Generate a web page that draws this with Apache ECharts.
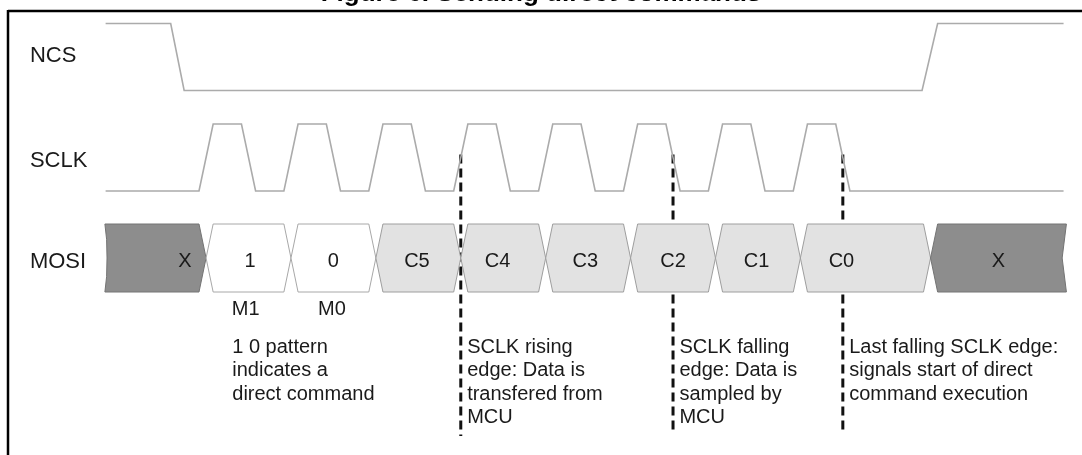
<!DOCTYPE html>
<html><head><meta charset="utf-8">
<script src="https://cdn.jsdelivr.net/npm/echarts@6/dist/echarts.min.js"></script>
<style>html,body{margin:0;padding:0;background:#fff}#c{width:1082px;height:455px}</style>
</head><body><div id="c"></div>
<script>
// ---------- data ----------
const titleText = 'Figure 6. Sending direct commands';
const signalNames = ['NCS', 'SCLK', 'MOSI'];

// NCS: transition times and logic levels (1 = high, 0 = low)
const ncsTimes  = [-6.6, -2.0, -1.05, 51.1, 52.2, 61.1];
const ncsLevels = [1, 1, 0, 0, 1, 1];

// SCLK: transition times and logic levels
const sclkTimes  = [-6.6, 0, 1, 3, 4, 6, 7, 9, 10, 12, 13, 15, 16, 18, 19, 21, 22,
                    24, 25, 27, 28, 30, 31, 33, 34, 36, 37, 39, 40, 42, 43, 45, 46, 61.1];
const sclkLevels = [0, 0, 1, 1, 0, 0, 1, 1, 0, 0, 1, 1, 0, 0, 1, 1, 0,
                    0, 1, 1, 0, 0, 1, 1, 0, 0, 1, 1, 0, 0, 1, 1, 0, 0];

// MOSI cells
const mosiLabels = ['X', '1', '0', 'C5', 'C4', 'C3', 'C2', 'C1', 'C0', 'X'];
const mosiStart  = [-6.6, 0.5, 6.5, 12.5, 18.5, 24.5, 30.5, 36.5, 42.5, 51.7];
const mosiEnd    = [0.5, 6.5, 12.5, 18.5, 24.5, 30.5, 36.5, 42.5, 51.7, 61.3];
const mosiKind   = ['dontcare', 'mode', 'mode', 'cmd', 'cmd', 'cmd', 'cmd', 'cmd', 'cmd', 'dontcare'];
const mosiLabelT = [-1.0, 3.6, 9.5, 15.4, 21.1, 27.3, 33.5, 39.4, 45.4, 56.5];

// Mode bit names under MOSI
const bitNames = ['M1', 'M0'];
const bitNameT = [3.3, 9.4];

// Edge markers (dashed lines) and notes
const markerT = [18.5, 33.5, 45.5];
const noteT = [2.35, 18.95, 33.95, 45.95];
const noteLines = [
  ['1 0 pattern', 'indicates a', 'direct command'],
  ['SCLK rising', 'edge: Data is', 'transfered from', 'MCU'],
  ['SCLK falling', 'edge: Data is', 'sampled by', 'MCU'],
  ['Last falling SCLK edge:', 'signals start of direct', 'command execution']
];

// ---------- rendering ----------
const FONT = '"Liberation Sans", Arial, Helvetica, sans-serif';
const PX = 100.5;          // pixels per lane unit on the y axis
const WAVE_H = 33.5 / PX;  // half swing of NCS/SCLK
const BOX_H = 34 / PX;     // half height of MOSI cells
const ROW_MOSI = 2;
const LABEL_DY = [-1, 3, 4]; // small vertical nudges of the signal names (px)

const styles = {
  dontcare: { fill: '#8d8d8d', stroke: '#747474' },
  mode: { fill: '#ffffff', stroke: '#a8a8a8' },
  cmd: { fill: '#e2e2e2', stroke: '#9e9e9e' }
};

const chart = echarts.init(document.getElementById('c'), null, { renderer: 'canvas' });

const option = {
  animation: false,
  backgroundColor: '#ffffff',
  title: {
    text: titleText, left: 'center', top: -24,
    textStyle: { fontFamily: FONT, fontSize: 26, fontWeight: 'bold', color: '#000' }
  },
  grid: { left: 0.9, top: 6.75, width: 1075.4, height: 4.4 * PX },
  xAxis: { type: 'value', min: -14, max: 62, show: false },
  yAxis: { type: 'value', min: -0.5, max: 3.9, inverse: true, show: false },
  graphic: [
    { type: 'line', shape: { x1: 8, y1: 11, x2: 1082, y2: 11 }, style: { stroke: '#000', lineWidth: 2.5 }, z: 100 },
    { type: 'line', shape: { x1: 8, y1: 10, x2: 8, y2: 455 }, style: { stroke: '#000', lineWidth: 2.5 }, z: 100 }
  ],
  series: [
    // dashed edge markers (drawn behind the MOSI cells)
    {
      type: 'custom', coordinateSystem: 'cartesian2d', clip: false, silent: true, z: 1,
      data: markerT.map(t => [t]),
      renderItem(params, api) {
        const t = api.value(0);
        const a = api.coord([t, 1 - 3 / PX]);
        const b = api.coord([t, ROW_MOSI + (params.dataIndex === 0 ? 178 : 174) / PX]);
        return { type: 'line', shape: { x1: a[0], y1: a[1], x2: b[0], y2: b[1] }, style: { stroke: '#111', lineWidth: 3, lineDash: [9, 5] } };
      }
    },
    // signal name labels
    {
      type: 'custom', coordinateSystem: 'cartesian2d', clip: false, silent: true, z: 3,
      data: signalNames.map((n, i) => [i]),
      renderItem(params, api) {
        const row = params.dataIndex;
        const p = api.coord([-11.95, row]);
        return { type: 'text', style: { text: signalNames[row], x: p[0], y: p[1] + LABEL_DY[row], align: 'left', verticalAlign: 'middle', fontFamily: FONT, fontSize: 22, fill: '#1a1a1a' } };
      }
    },
    // NCS and SCLK waveforms
    {
      type: 'custom', coordinateSystem: 'cartesian2d', clip: false, silent: true, z: 2,
      data: [[0], [1]],
      renderItem(params, api) {
        const row = params.dataIndex;
        const times = row === 0 ? ncsTimes : sclkTimes;
        const levels = row === 0 ? ncsLevels : sclkLevels;
        const pts = times.map((t, i) => api.coord([t, row + (levels[i] ? -WAVE_H : WAVE_H)]));
        return { type: 'polyline', shape: { points: pts }, style: { stroke: '#ababab', lineWidth: 1.6, fill: null } };
      }
    },
    // MOSI cells
    {
      type: 'custom', coordinateSystem: 'cartesian2d', clip: false, silent: true, z: 3,
      data: mosiLabels.map((l, i) => [mosiStart[i], mosiEnd[i], mosiLabelT[i]]),
      renderItem(params, api) {
        const i = params.dataIndex;
        const s = api.value(0), e = api.value(1), lt = api.value(2);
        const d = 0.5;
        const top = ROW_MOSI - BOX_H, bot = ROW_MOSI + BOX_H, mid = ROW_MOSI;
        let pts;
        if (i === 0) {
          pts = [[s - 0.05, top], [e - d, top], [e, mid], [e - d, bot], [s - 0.05, bot],
                 [s + 0.07, ROW_MOSI + BOX_H * 0.55], [s + 0.1, mid], [s + 0.07, ROW_MOSI - BOX_H * 0.55]];
        } else if (i === mosiLabels.length - 1) {
          pts = [[s, mid], [s + d, top], [e, top], [e - 0.3, mid], [e, bot], [s + d, bot]];
        } else {
          pts = [[s, mid], [s + d, top], [e - d, top], [e, mid], [e - d, bot], [s + d, bot]];
        }
        const st = styles[mosiKind[i]];
        const lp = api.coord([lt, mid]);
        return {
          type: 'group',
          children: [
            { type: 'polygon', shape: { points: pts.map(p => api.coord(p)) }, style: { fill: st.fill, stroke: st.stroke, lineWidth: 1 } },
            { type: 'text', style: { text: mosiLabels[i], x: lp[0], y: lp[1] + 3, align: 'center', verticalAlign: 'middle', fontFamily: FONT, fontSize: 20, fill: '#1a1a1a' } }
          ]
        };
      }
    },
    // M1 / M0 names
    {
      type: 'custom', coordinateSystem: 'cartesian2d', clip: false, silent: true, z: 3,
      data: bitNameT.map(t => [t]),
      renderItem(params, api) {
        const p = api.coord([api.value(0), ROW_MOSI + 51 / PX]);
        return { type: 'text', style: { text: bitNames[params.dataIndex], x: p[0], y: p[1], align: 'center', verticalAlign: 'middle', fontFamily: FONT, fontSize: 20, fill: '#1a1a1a' } };
      }
    },
    // notes
    {
      type: 'custom', coordinateSystem: 'cartesian2d', clip: false, silent: true, z: 3,
      data: noteT.map(t => [t]),
      renderItem(params, api) {
        const p = api.coord([api.value(0), ROW_MOSI + (89 - 11.75) / PX]);
        return { type: 'text', style: { text: noteLines[params.dataIndex].join('\n'), x: p[0], y: p[1], align: 'left', verticalAlign: 'top', lineHeight: 23.5, fontFamily: FONT, fontSize: 20, fill: '#1a1a1a' } };
      }
    }
  ]
};
chart.setOption(option);
</script>
</body></html>
